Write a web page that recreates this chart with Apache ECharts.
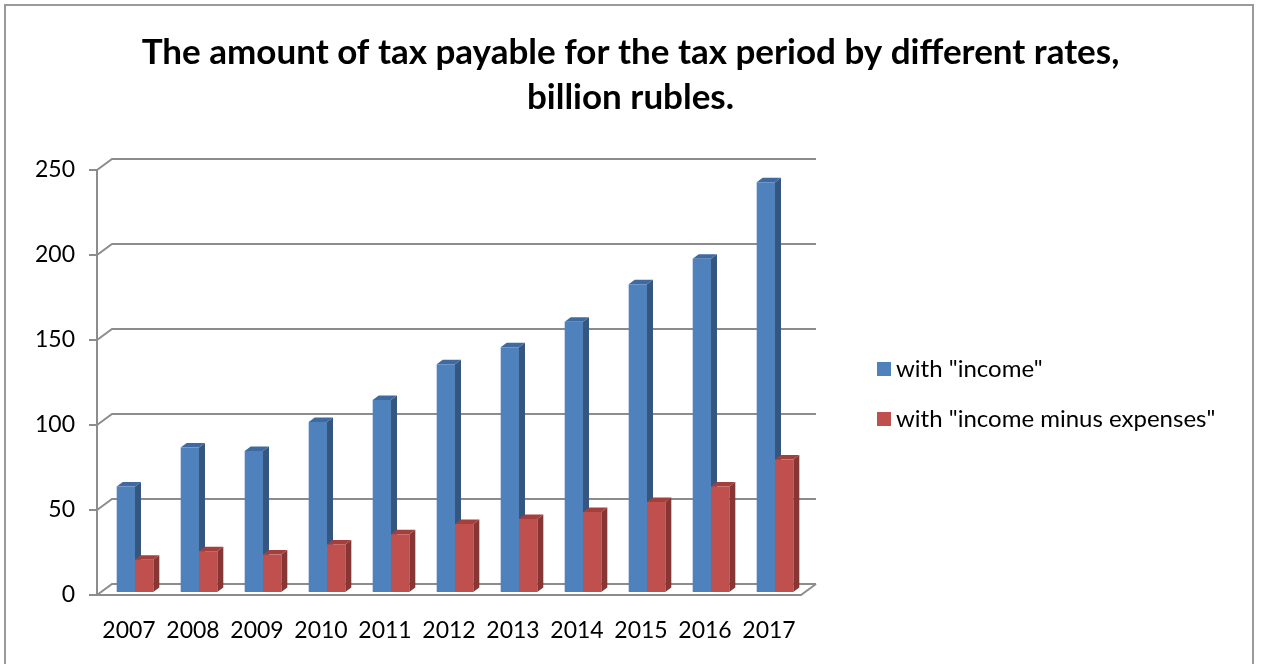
<!DOCTYPE html>
<html>
<head>
<meta charset="utf-8">
<script src="https://cdn.jsdelivr.net/npm/echarts@6/dist/echarts.min.js"></script>
<style>html,body{margin:0;padding:0;background:#fff}#c{width:1261px;height:664px}</style>
</head>
<body>
<div id="c"></div>
<script>
const years = ['2007','2008','2009','2010','2011','2012','2013','2014','2015','2016','2017'];
const incomeValues = [62, 85, 83, 100, 113, 134, 144, 159, 181, 196, 241];
const incomeMinusExpensesValues = [19, 24, 22, 28, 34, 40, 43, 47, 53, 62, 78];
const yTicks = [0, 50, 100, 150, 200, 250];
const seriesNames = ['with "income"', 'with "income minus expenses"'];

const FONT = 'Lato';
const WALL_DX = 15, WALL_DY = -11;
const BAR_OX = 6, BAR_OY = -3;
const SIDE_DX = 6, SIDE_DY = -4.5;
const GRID_COLOR = '#8c8c8c';

const palettes = [
  {front: '#4F81BD', side: '#35567F', top: '#3F6AA0'},
  {front: '#C0504D', side: '#863634', top: '#A3403D'}
];

function barRender(seriesIdx) {
  return function (params, api) {
    const i = api.value(0), v = api.value(1);
    const topPt = api.coord([i, v]);
    const basePt = api.coord([i, 0]);
    const catW = api.size([1, 0])[0];
    const w = catW * 0.286;
    const left = (seriesIdx === 0 ? topPt[0] - w : topPt[0]) + BAR_OX;
    const right = left + w;
    const top = topPt[1] + BAR_OY;
    const bottom = basePt[1] + BAR_OY;
    const p = palettes[seriesIdx];
    return {
      type: 'group',
      children: [
        {type: 'polygon', shape: {points: [[right, top], [right + SIDE_DX, top + SIDE_DY], [right + SIDE_DX, bottom + SIDE_DY], [right, bottom]]}, style: {fill: p.side}},
        {type: 'polygon', shape: {points: [[left, top], [left + SIDE_DX, top + SIDE_DY], [right + SIDE_DX, top + SIDE_DY], [right, top]]}, style: {fill: p.top}},
        {type: 'rect', shape: {x: left, y: top, width: w, height: bottom - top}, style: {fill: p.front}}
      ]
    };
  };
}

function wallRender(params, api) {
  const v = api.value(0);
  const cs = params.coordSys;
  const pt = api.coord([0, v]);
  const y = pt[1];
  const x0 = cs.x, x1 = cs.x + cs.width;
  const children = [
    {type: 'polyline', shape: {points: [[x0, y], [x0 + WALL_DX, y + WALL_DY], [x1 + WALL_DX, y + WALL_DY]]}, style: {stroke: GRID_COLOR, lineWidth: 2, fill: null}}
  ];
  if (v === 0) {
    children.push({type: 'line', shape: {x1: x1, y1: y, x2: x1 + WALL_DX, y2: y + WALL_DY}, style: {stroke: GRID_COLOR, lineWidth: 2}});
  }
  return {type: 'group', children: children};
}

const chart = echarts.init(document.getElementById('c'));
chart.setOption({
  animation: false,
  backgroundColor: '#fff',
  textStyle: {fontFamily: FONT},
  title: {
    text: 'The amount of tax payable for the tax period by different rates,\nbillion rubles.',
    left: 'center',
    top: 25,
    textStyle: {fontFamily: FONT, fontWeight: 'bold', fontSize: 35, lineHeight: 45, color: '#000'}
  },
  graphic: [
    {type: 'rect', shape: {x: 5, y: 5, width: 1248, height: 700}, style: {fill: null, stroke: '#9a9a9a', lineWidth: 2}, z: 100}
  ],
  legend: {
    orient: 'vertical',
    left: 872,
    top: 350,
    itemWidth: 14,
    itemHeight: 14,
    itemGap: 22,
    icon: 'rect',
    textStyle: {fontFamily: FONT, fontSize: 24, lineHeight: 28, color: '#000'},
    data: [
      {name: seriesNames[0], itemStyle: {color: palettes[0].front}},
      {name: seriesNames[1], itemStyle: {color: palettes[1].front}}
    ]
  },
  grid: {left: 97, top: 170, width: 704, height: 425, containLabel: false},
  xAxis: {
    type: 'category',
    data: years,
    axisLine: {show: true, lineStyle: {color: GRID_COLOR, width: 2}},
    axisTick: {show: false},
    axisLabel: {fontFamily: FONT, fontSize: 23, color: '#000', margin: 24, interval: 0},
    splitLine: {show: false}
  },
  yAxis: {
    type: 'value',
    min: 0,
    max: 250,
    interval: 50,
    axisLine: {show: true, lineStyle: {color: GRID_COLOR, width: 2}},
    axisTick: {show: true, length: 8, lineStyle: {color: GRID_COLOR, width: 2}},
    axisLabel: {fontFamily: FONT, fontSize: 23, color: '#000', margin: 22},
    splitLine: {show: false}
  },
  series: [
    {
      type: 'custom', name: 'wall', renderItem: wallRender,
      data: yTicks.map(t => [t]), encode: {y: 0}, silent: true, z: 1
    },
    {
      type: 'custom', name: seriesNames[0], renderItem: barRender(0),
      itemStyle: {color: palettes[0].front},
      data: incomeValues.map((v, i) => [i, v]), encode: {x: 0, y: 1}, z: 2
    },
    {
      type: 'custom', name: seriesNames[1], renderItem: barRender(1),
      itemStyle: {color: palettes[1].front},
      data: incomeMinusExpensesValues.map((v, i) => [i, v]), encode: {x: 0, y: 1}, z: 3
    }
  ]
});
</script>
</body>
</html>
